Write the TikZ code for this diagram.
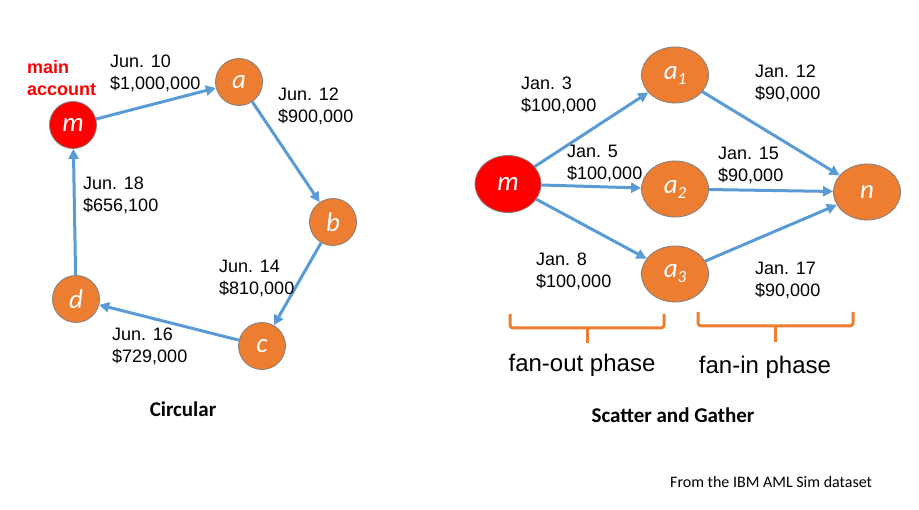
\documentclass[tikz,border=0pt]{standalone}
\usepackage{fontspec}
\setmainfont{Liberation Sans}
\newfontfamily\calibri{Carlito}
\usetikzlibrary{arrows.meta, shapes.geometric}
\definecolor{flowblue}{HTML}{5B9BD5}
\definecolor{acctorange}{HTML}{ED7D31}
\definecolor{acctred}{HTML}{FF0000}
\definecolor{acctborder}{HTML}{7F7F7F}
\newcommand{\acctsub}[1]{\raisebox{-5pt}{\fontsize{17}{17}\selectfont#1}}

\begin{document}
\begin{tikzpicture}[
    x=1pt, y=-1pt,
    acct/.style={circle, draw=acctborder, fill=acctorange, line width=0.8pt,
        minimum size=47pt, inner sep=0pt, text=white,
        font=\fontsize{27}{27}\selectfont\calibri\itshape},
    mainacct/.style={acct, fill=acctred},
    wideacct/.style={acct, ellipse, minimum width=67pt, minimum height=56pt},
    flow/.style={-{Triangle[length=10pt, width=10pt]}, draw=flowblue,
        line width=3pt},
    dl/.style={anchor=north west, inner sep=0pt, align=left,
        font=\fontsize{18}{21.5}\selectfont},
    title/.style={anchor=base, inner sep=0pt,
        font=\fontsize{21}{21}\selectfont\calibri\bfseries},
    phase/.style={anchor=base, inner sep=0pt, font=\fontsize{24}{24}\selectfont},
    brace/.style={draw=acctorange, line width=3pt, rounded corners=3pt},
]

% --- Canvas ---
\fill[white] (0,0) rectangle (919,510);
\useasboundingbox (0,0) rectangle (919,510);

% --- Circular ---
\node[mainacct] (m) at (73,125) {m};
\node[acct] (a) at (239,82) {a};
\node[acct] (b) at (333,222) {b};
\node[acct] (c) at (262,346) {c};
\node[acct] (d) at (76,299) {d};

\draw[flow] (m) -- (a);
\draw[flow] (a) -- (b);
\draw[flow] (b) -- (c);
\draw[flow] (c) -- (d);
\draw[flow] (d) -- (m);

\node[dl, text=acctred, font=\fontsize{18}{22}\selectfont\bfseries] (mainlabel)
    at (27,60) {main\\account};
\node[dl] (ma) at (110,55) {Jun. 10\\\$1,000,000};
\node[dl] (ab) at (278,88) {Jun. 12\\\$900,000};
\node[dl] (bc) at (219,260) {Jun. 14\\\$810,000};
\node[dl] (cd) at (112,328) {Jun. 16\\\$729,000};
\node[dl] (dm) at (83,177) {Jun. 18\\\$656,100};

\node[title] (circtitle) at (183,417) {Circular};

% --- Scatter and Gather ---
\node[mainacct, ellipse, minimum width=66pt, minimum height=57pt] (sm) at (508,184) {m};
\node[wideacct] (a1) at (675,75) {a\acctsub{1}};
\node[wideacct] (a2) at (675,189) {a\acctsub{2}};
\node[wideacct] (a3) at (675,274) {a\acctsub{3}};
\node[wideacct] (n) at (867,192) {n};

\foreach \k in {1,2,3} {
    \draw[flow] (sm) -- (a\k);
    \draw[flow] (a\k) -- (n);
}

\node[dl] (out1) at (521,77) {Jan. 3\\\$100,000};
\node[dl] (out2) at (567,145) {Jan. 5\\\$100,000};
\node[dl] (out3) at (536,253) {Jan. 8\\\$100,000};
\node[dl] (in1) at (755,65) {Jan. 12\\\$90,000};
\node[dl] (in2) at (718,147) {Jan. 15\\\$90,000};
\node[dl] (in3) at (755,262) {Jan. 17\\\$90,000};

% phase brackets
\draw[brace] (510,314) -- (510,328) -- (664,328) -- (664,314);
\draw[brace] (587,328) -- (587,343);
\draw[brace] (698,312) -- (698,326) -- (853,326) -- (853,312);
\draw[brace] (775,326) -- (775,342);

\node[phase] (fanout) at (582,372) {fan-out phase};
\node[phase] (fanin) at (765,374) {fan-in phase};

\node[title] (sgtitle) at (673,423) {Scatter and Gather};

\node[anchor=base west, inner sep=0pt, font=\fontsize{16}{16}\selectfont\calibri]
    (source) at (670,488) {From the IBM AML Sim dataset};

\end{tikzpicture}
\end{document}
